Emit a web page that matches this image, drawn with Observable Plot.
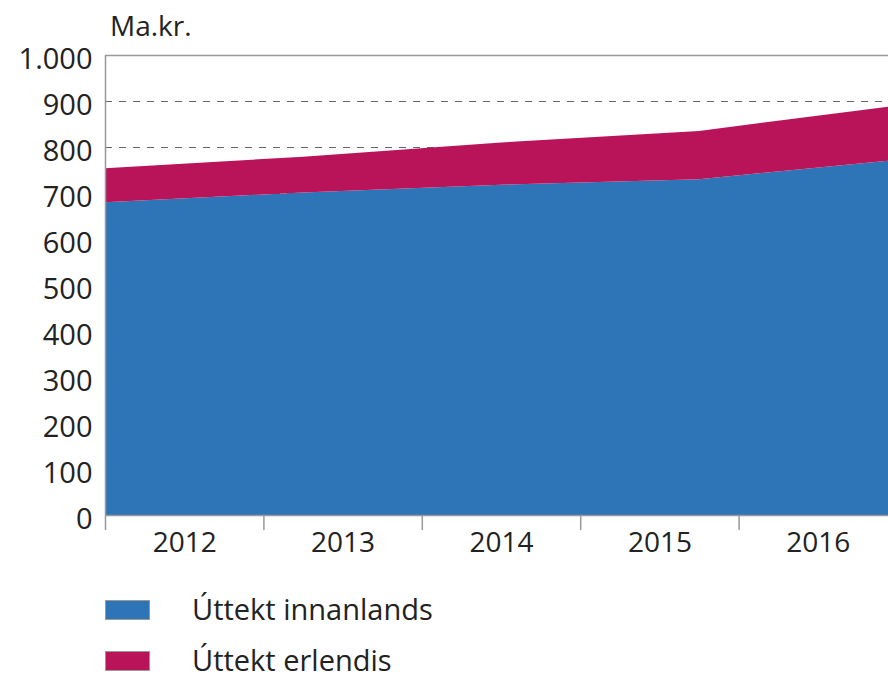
<!DOCTYPE html>
<html>
<head>
<meta charset="utf-8">
<script src="https://cdn.jsdelivr.net/npm/d3@7"></script>
<script src="https://cdn.jsdelivr.net/npm/@observablehq/plot@0.6"></script>
<style>
  html, body { margin: 0; padding: 0; background: #fff; }
  body { width: 888px; height: 676px; position: relative; overflow: hidden; font-family: "Open Sans", sans-serif; color: #222; }
  #unit { position: absolute; left: 110px; top: 8px; font-size: 28px; line-height: 34px; }
  #chart { position: absolute; left: 0; top: 35px; width: 897px; }
  #chart svg { max-width: none !important; overflow: visible; }
  .leg { position: absolute; left: 0; font-size: 29px; line-height: 28px; }
  .sw { position: absolute; left: 105px; width: 45px; height: 20px; border: 1px solid #999; box-sizing: border-box; }
  .lt { position: absolute; left: 192px; white-space: nowrap; }
</style>
</head>
<body>
<div id="unit">Ma.kr.</div>
<div id="chart"></div>
<div id="legend"></div>
<script>
const years = ["2012", "2013", "2014", "2015", "2016"];
const seriesNames = ["Úttekt innanlands", "Úttekt erlendis"];
const innanlands = [680, 701, 718, 730, 772];
const erlendis = [74, 78, 92, 105, 118];
const yTicks = [0, 100, 200, 300, 400, 500, 600, 700, 800, 900, 1000];
const colors = ["#2e75b7", "#b9145a"];

const n = years.length;
const rows = [];
years.forEach((y, i) => {
  rows.push({pos: i * n / (n - 1), series: seriesNames[0], value: innanlands[i]});
  rows.push({pos: i * n / (n - 1), series: seriesNames[1], value: erlendis[i]});
});

const plot = Plot.plot({
  width: 897,
  height: 530,
  marginLeft: 105,
  marginRight: 0,
  marginTop: 20,
  marginBottom: 50,
  style: {fontFamily: "Open Sans, sans-serif", color: "#222", background: "transparent"},
  x: {domain: [0, n], axis: null, label: null},
  y: {domain: [0, 1000], axis: null, label: null},
  color: {domain: seriesNames, range: colors},
  marks: [
    Plot.gridY(yTicks.filter(d => d > 0 && d < 1000), {stroke: "#666", strokeOpacity: 1, strokeDasharray: "7,7", strokeWidth: 1.2}),
    Plot.areaY(rows, {x: "pos", y: "value", fill: "series", order: seriesNames}),
    Plot.ruleY([1000], {stroke: "#999", strokeWidth: 1.5}),
    Plot.ruleY([0], {stroke: "#999", strokeWidth: 1.5}),
    Plot.ruleX([0], {y1: 0, y2: 1000, stroke: "#999", strokeWidth: 1.5}),
    Plot.axisY({ticks: yTicks, tickSize: 0, tickPadding: 13, fontSize: 29, dy: 4, label: null,
      tickFormat: d => d >= 1000 ? d3.format(",")(d).replace(",", ".") : String(d)}),
    Plot.axisX({ticks: d3.range(0, n + 1), tickSize: 15, label: null, tickFormat: () => "", stroke: "#999", strokeWidth: 1.5}),
    Plot.axisX({ticks: years.map((_, i) => i + 0.5), tickSize: 0, tickPadding: 17, fontSize: 28, label: null,
      tickFormat: v => years[Math.round(v - 0.5)]})
  ]
});
document.getElementById("chart").appendChild(plot);

const legend = document.getElementById("legend");
seriesNames.forEach((s, i) => {
  const top = 595 + i * 51;
  const sw = document.createElement("div");
  sw.className = "sw";
  sw.style.top = (top + 5) + "px";
  sw.style.background = colors[i];
  const t = document.createElement("div");
  t.className = "leg lt";
  t.style.top = top + "px";
  t.textContent = s;
  legend.appendChild(sw);
  legend.appendChild(t);
});
</script>
</body>
</html>
